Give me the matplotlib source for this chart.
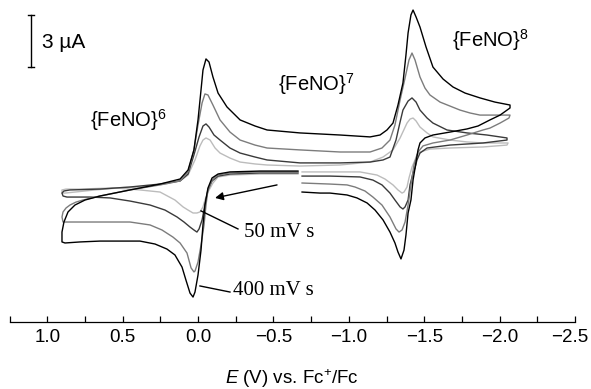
"""Cyclic voltammograms of the {FeNO} complex at four scan rates."""

from __future__ import annotations

import matplotlib

matplotlib.use("Agg")
import matplotlib.pyplot as plt
import matplotlib.transforms as mtransforms
from matplotlib.ticker import MultipleLocator

# potentials in V vs Fc+/Fc, currents in uA (zero is arbitrary)
black_e = [-0.663, -0.411, -0.212, -0.133, -0.093, -0.066, -0.046, -0.033, -0.020, 0.000,
           0.020, 0.033, 0.053, 0.080, 0.106, 0.153, 0.206, 0.285, 0.385, 0.517,
           0.650, 0.782, 0.882, 0.902, 0.902, 0.889, 0.862, 0.816, 0.749, 0.650,
           0.451, 0.252, 0.119, 0.066, 0.027, 0.000, -0.020, -0.033, -0.053, -0.073,
           -0.099, -0.133, -0.192, -0.279, -0.378, -0.458, -0.676, -0.942, -1.141, -1.207,
           -1.253, -1.293, -1.326, -1.359, -1.379, -1.393, -1.412, -1.426, -1.446, -1.472,
           -1.512, -1.558, -1.625, -1.691, -1.771, -1.870, -1.969, -2.069, -2.069, -2.003,
           -1.936, -1.857, -1.784, -1.671, -1.558, -1.505, -1.472, -1.459, -1.446, -1.426,
           -1.412, -1.393, -1.379, -1.366, -1.346, -1.326, -1.306, -1.273, -1.227, -1.174,
           -1.121, -1.054, -0.988, -0.875, -0.809, -0.690]
black_i = [1.67, 1.67, 1.62, 1.50, 1.27, 0.69, -0.29, -1.44, -2.89, -4.33,
           -5.31, -5.60, -5.37, -4.62, -3.87, -3.17, -2.83, -2.54, -2.37, -2.37,
           -2.37, -2.42, -2.48, -2.42, -1.85, -1.27, -0.69, -0.29, 0.00, 0.23,
           0.58, 0.92, 1.21, 1.73, 2.89, 4.62, 6.35, 7.50, 8.14, 7.96,
           7.10, 6.17, 5.37, 4.62, 4.27, 4.04, 3.87, 3.75, 3.64, 3.75,
           4.04, 4.44, 5.48, 6.75, 8.37, 9.64, 10.68, 10.96, 10.56, 9.98,
           8.83, 7.67, 6.98, 6.52, 6.17, 5.89, 5.65, 5.48, 5.31, 4.90,
           4.62, 4.27, 4.10, 3.92, 3.75, 3.58, 3.29, 2.89, 2.19, 1.15,
           0.00, -0.75, -2.02, -2.89, -3.40, -3.00, -2.48, -1.85, -1.15, -0.58,
           -0.17, 0.12, 0.29, 0.40, 0.40, 0.46]

gray_e = [-0.663, -0.411, -0.212, -0.133, -0.093, -0.066, -0.053, -0.040, -0.020, 0.000,
          0.020, 0.027, 0.046, 0.073, 0.119, 0.166, 0.239, 0.318, 0.451, 0.584,
          0.749, 0.869, 0.895, 0.902, 0.895, 0.875, 0.849, 0.809, 0.763, 0.650,
          0.451, 0.252, 0.119, 0.066, 0.027, 0.000, -0.027, -0.046, -0.066, -0.099,
          -0.146, -0.212, -0.279, -0.378, -0.458, -0.676, -0.942, -1.141, -1.220, -1.273,
          -1.306, -1.340, -1.373, -1.399, -1.419, -1.439, -1.472, -1.505, -1.538, -1.605,
          -1.671, -1.737, -1.804, -1.870, -1.956, -2.069, -2.062, -2.003, -1.936, -1.890,
          -1.784, -1.671, -1.558, -1.492, -1.459, -1.432, -1.412, -1.393, -1.373, -1.353,
          -1.333, -1.313, -1.273, -1.220, -1.160, -1.107, -1.041, -0.988, -0.875, -0.690]
gray_i = [1.62, 1.62, 1.56, 1.44, 1.15, 0.58, -0.29, -1.44, -2.60, -3.58,
          -4.10, -4.15, -3.92, -3.06, -2.48, -2.14, -1.73, -1.44, -1.27, -1.27,
          -1.27, -1.27, -1.27, -0.98, -0.69, -0.46, -0.29, -0.12, 0.00, 0.23,
          0.58, 0.87, 1.10, 1.62, 2.89, 4.33, 5.60, 6.12, 6.06, 5.48,
          4.62, 3.92, 3.46, 3.17, 3.00, 2.89, 2.77, 2.77, 3.00, 3.46,
          4.33, 5.77, 7.04, 8.08, 8.48, 8.08, 7.10, 6.46, 6.06, 5.65,
          5.42, 5.19, 5.02, 4.90, 4.90, 4.90, 4.73, 4.44, 4.15, 4.04,
          3.75, 3.46, 3.29, 3.12, 2.77, 2.02, 0.87, -0.29, -1.27, -1.73,
          -1.85, -1.67, -0.98, -0.29, 0.17, 0.52, 0.75, 0.87, 0.92, 0.98]

dark_e = [-0.663, -0.411, -0.212, -0.133, -0.093, -0.066, -0.046, -0.027, -0.007, 0.007,
          0.027, 0.053, 0.093, 0.139, 0.219, 0.318, 0.451, 0.584, 0.716, 0.869,
          0.895, 0.902, 0.889, 0.849, 0.650, 0.451, 0.252, 0.119, 0.066, 0.027,
          -0.007, -0.033, -0.053, -0.073, -0.106, -0.146, -0.212, -0.279, -0.378, -0.458,
          -0.676, -0.942, -1.141, -1.227, -1.273, -1.313, -1.340, -1.359, -1.393, -1.419,
          -1.446, -1.472, -1.519, -1.558, -1.651, -1.784, -1.916, -2.049, -2.049, -1.890,
          -1.671, -1.519, -1.472, -1.452, -1.439, -1.426, -1.406, -1.393, -1.373, -1.359,
          -1.340, -1.306, -1.273, -1.220, -1.160, -1.074, -0.875, -0.690]
dark_i = [1.56, 1.56, 1.50, 1.38, 1.10, 0.58, -0.29, -1.15, -1.67, -1.85,
          -1.73, -1.56, -1.27, -0.98, -0.58, -0.29, -0.06, 0.12, 0.17, 0.17,
          0.23, 0.40, 0.52, 0.58, 0.63, 0.75, 0.92, 1.10, 1.50, 2.60,
          3.64, 4.27, 4.39, 4.21, 3.75, 3.46, 3.00, 2.71, 2.48, 2.31,
          2.14, 2.14, 2.19, 2.31, 2.48, 3.46, 4.50, 5.19, 5.71, 5.89,
          5.65, 5.19, 4.73, 4.44, 4.04, 3.87, 3.75, 3.58, 3.46, 3.29,
          3.17, 3.00, 2.71, 2.31, 1.85, 1.56, 0.87, 0.00, -0.40, -0.52,
          -0.40, 0.00, 0.40, 0.87, 1.15, 1.33, 1.38, 1.38]

light_e = [-0.663, -0.411, -0.212, -0.133, -0.099, -0.066, -0.046, -0.033, -0.013, 0.007,
           0.033, 0.066, 0.099, 0.153, 0.252, 0.385, 0.537, 0.683, 0.816, 0.882,
           0.902, 0.902, 0.875, 0.782, 0.584, 0.385, 0.219, 0.119, 0.066, 0.020,
           -0.013, -0.033, -0.053, -0.080, -0.113, -0.146, -0.212, -0.279, -0.378, -0.458,
           -0.676, -0.942, -1.141, -1.227, -1.293, -1.340, -1.386, -1.406, -1.426, -1.446,
           -1.472, -1.519, -1.558, -1.671, -1.784, -1.890, -2.056, -2.049, -1.890, -1.671,
           -1.538, -1.472, -1.452, -1.439, -1.419, -1.399, -1.386, -1.366, -1.353, -1.326,
           -1.293, -1.240, -1.187, -1.074, -0.875, -0.690]
light_i = [1.50, 1.50, 1.44, 1.33, 0.98, 0.46, 0.00, -0.40, -0.69, -0.75,
           -0.75, -0.58, -0.40, 0.00, 0.46, 0.58, 0.69, 0.58, 0.46, 0.40,
           0.40, 0.58, 0.63, 0.63, 0.69, 0.75, 0.92, 1.10, 1.44, 2.31,
           3.12, 3.46, 3.58, 3.46, 3.00, 2.71, 2.42, 2.19, 2.08, 2.02,
           1.96, 2.02, 2.19, 2.48, 2.89, 3.58, 4.44, 4.67, 4.73, 4.56,
           4.21, 3.87, 3.64, 3.46, 3.35, 3.29, 3.29, 3.17, 3.06, 3.00,
           2.94, 2.77, 2.60, 2.31, 1.90, 1.27, 0.75, 0.46, 0.40, 0.58,
           0.87, 1.21, 1.44, 1.62, 1.62, 1.62]

major_ticks = [1.0, 0.5, 0.0, -0.5, -1.0, -1.5, -2.0, -2.5]
tick_labels = ["1.0", "0.5", "0.0", "\u22120.5", "\u22121.0", "\u22121.5", "\u22122.0", "\u22122.5"]
scale_bar_ua = 3.0


def main() -> int:
    plt.rcParams["font.family"] = ["Liberation Sans", "DejaVu Sans"]
    plt.rcParams["mathtext.fontset"] = "custom"
    plt.rcParams["mathtext.rm"] = "Liberation Sans"
    plt.rcParams["mathtext.it"] = "Liberation Sans:italic"

    fig = plt.figure(figsize=(5.91, 3.89), dpi=100)
    ax = fig.add_axes([0.0, 0.1722, 1.0, 0.8278])

    curves = [
        (light_e, light_i, "#bcbcbc"),
        (dark_e, dark_i, "#3a3a3a"),
        (gray_e, gray_i, "#7c7c7c"),
        (black_e, black_i, "#000000"),
    ]
    for e, i, color in curves:
        ax.plot(e, i, color=color, linewidth=1.0, solid_joinstyle="round")

    ax.set_xlim(1.313, -2.606)
    ax.set_ylim(-7.04, 11.54)

    for side in ("top", "left", "right"):
        ax.spines[side].set_visible(False)
    ax.spines["bottom"].set_bounds(1.25, -2.5)
    ax.spines["bottom"].set_linewidth(0.9)
    ax.set_yticks([])
    ax.set_xticks(major_ticks)
    ax.set_xticklabels(tick_labels)
    ax.xaxis.set_minor_locator(MultipleLocator(0.25))
    ax.tick_params(axis="x", which="both", direction="in", length=4.5, width=0.9,
                   labelsize=13.5, pad=5)
    # last label sits against the right edge; nudge it in a little
    last = ax.get_xticklabels()[-1]
    last.set_transform(last.get_transform()
                       + mtransforms.ScaledTranslation(-4 / 72, 0, fig.dpi_scale_trans))

    fig.text(0.494, 0.012, r"$E$ (V) vs. Fc$^{+}$/Fc", ha="center", va="baseline",
             fontsize=13.5)

    # scale bar
    bar_x = 1.107
    bar_top = 10.68
    ax.plot([bar_x, bar_x], [bar_top - scale_bar_ua, bar_top], color="black", linewidth=1.0)
    for y in (bar_top - scale_bar_ua, bar_top):
        ax.plot([bar_x + 0.02, bar_x - 0.02], [y, y], color="black", linewidth=1.0)
    ax.text(1.034, 9.06, f"{scale_bar_ua:.0f} \u00b5A", ha="left", va="center",
            fontsize=15)

    ax.text(0.716, 4.21, r"{FeNO}$^{6}$", ha="left", va="baseline", fontsize=14.5)
    ax.text(-0.531, 6.29, r"{FeNO}$^{7}$", ha="left", va="baseline", fontsize=14.5)
    ax.text(-1.684, 8.83, r"{FeNO}$^{8}$", ha="left", va="baseline", fontsize=14.5)

    ax.annotate("", xy=(-0.113, 0.12), xytext=(-0.524, 0.87),
                arrowprops=dict(arrowstyle="-|>", color="black", lw=1.0,
                                mutation_scale=12, shrinkA=0, shrinkB=0))

    ax.plot([-0.265, -0.020], [-1.67, -0.63], color="black", linewidth=1.0)
    ax.plot([-0.212, -0.013], [-5.31, -4.96], color="black", linewidth=1.0)
    ax.text(-0.305, -1.90, "50 mV s", ha="left", va="center", fontsize=15,
            family="Liberation Serif")
    ax.text(-0.232, -5.25, "400 mV s", ha="left", va="center", fontsize=15,
            family="Liberation Serif")

    fig.savefig("out.png", dpi=100)
    plt.close(fig)
    return 0


if __name__ == "__main__":
    raise SystemExit(main())
